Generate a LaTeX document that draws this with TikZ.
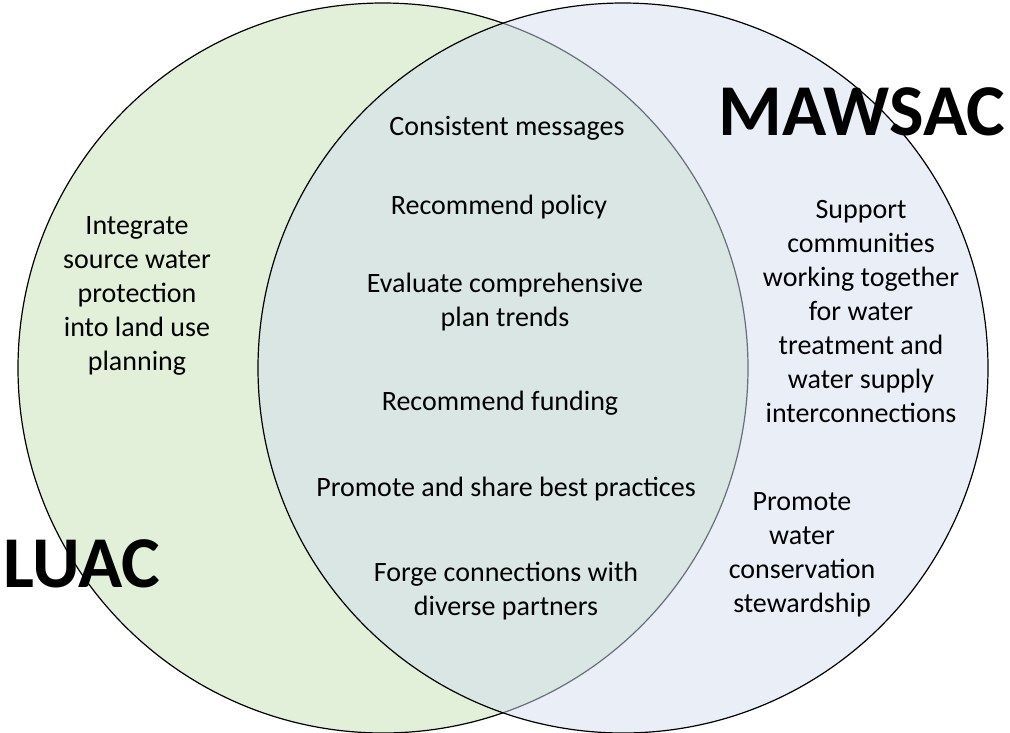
\documentclass[tikz,border=0pt]{standalone}
\usepackage{fontspec}
\setmainfont{Carlito}
\definecolor{luacgreen}{HTML}{E2F0D9}
\definecolor{mawsacblue}{HTML}{D3DDF0}
\tikzset{
  item/.style={align=center, inner sep=0pt, font=\fontsize{28}{34}\selectfont},
  title/.style={inner sep=0pt, font=\fontsize{73}{73}\selectfont\bfseries}
}

\begin{document}
\begin{tikzpicture}[x=1pt, y=-1pt]
        \useasboundingbox (0, 0) rectangle (1010, 732);
        % the two circles
        \draw[fill=luacgreen, line width=1.2pt] (383, 368) circle (365);
        \draw[fill=mawsacblue, fill opacity=0.5, line width=1.2pt] (623, 368) circle (365);
        % shared items
        \node[item] (msg) at (507, 128) {Consistent messages};
        \node[item] (policy) at (499, 207) {Recommend policy};
        \node[item] (trends) at (505, 302) {Evaluate comprehensive\\plan trends};
        \node[item] (funding) at (500, 403) {Recommend funding};
        \node[item] (share) at (506, 489) {Promote and share best practices};
        \node[item] (forge) at (506, 591) {Forge connections with\\diverse partners};
        % LUAC only
        \node[item] (integrate) at (137, 296) {Integrate\\source water\\protection\\into land use\\planning};
        % MAWSAC only
        \node[item] (support) at (861, 312) {Support\\communities\\working together\\for water\\treatment and\\water supply\\interconnections};
        \node[item] (conserve) at (802, 555) {Promote\\water\\conservation\\stewardship};
        % titles
        \node[title] (mawsac) at (862, 112) {MAWSAC};
        \node[title] (luac) at (82, 564) {LUAC};
      \end{tikzpicture}
\end{document}
